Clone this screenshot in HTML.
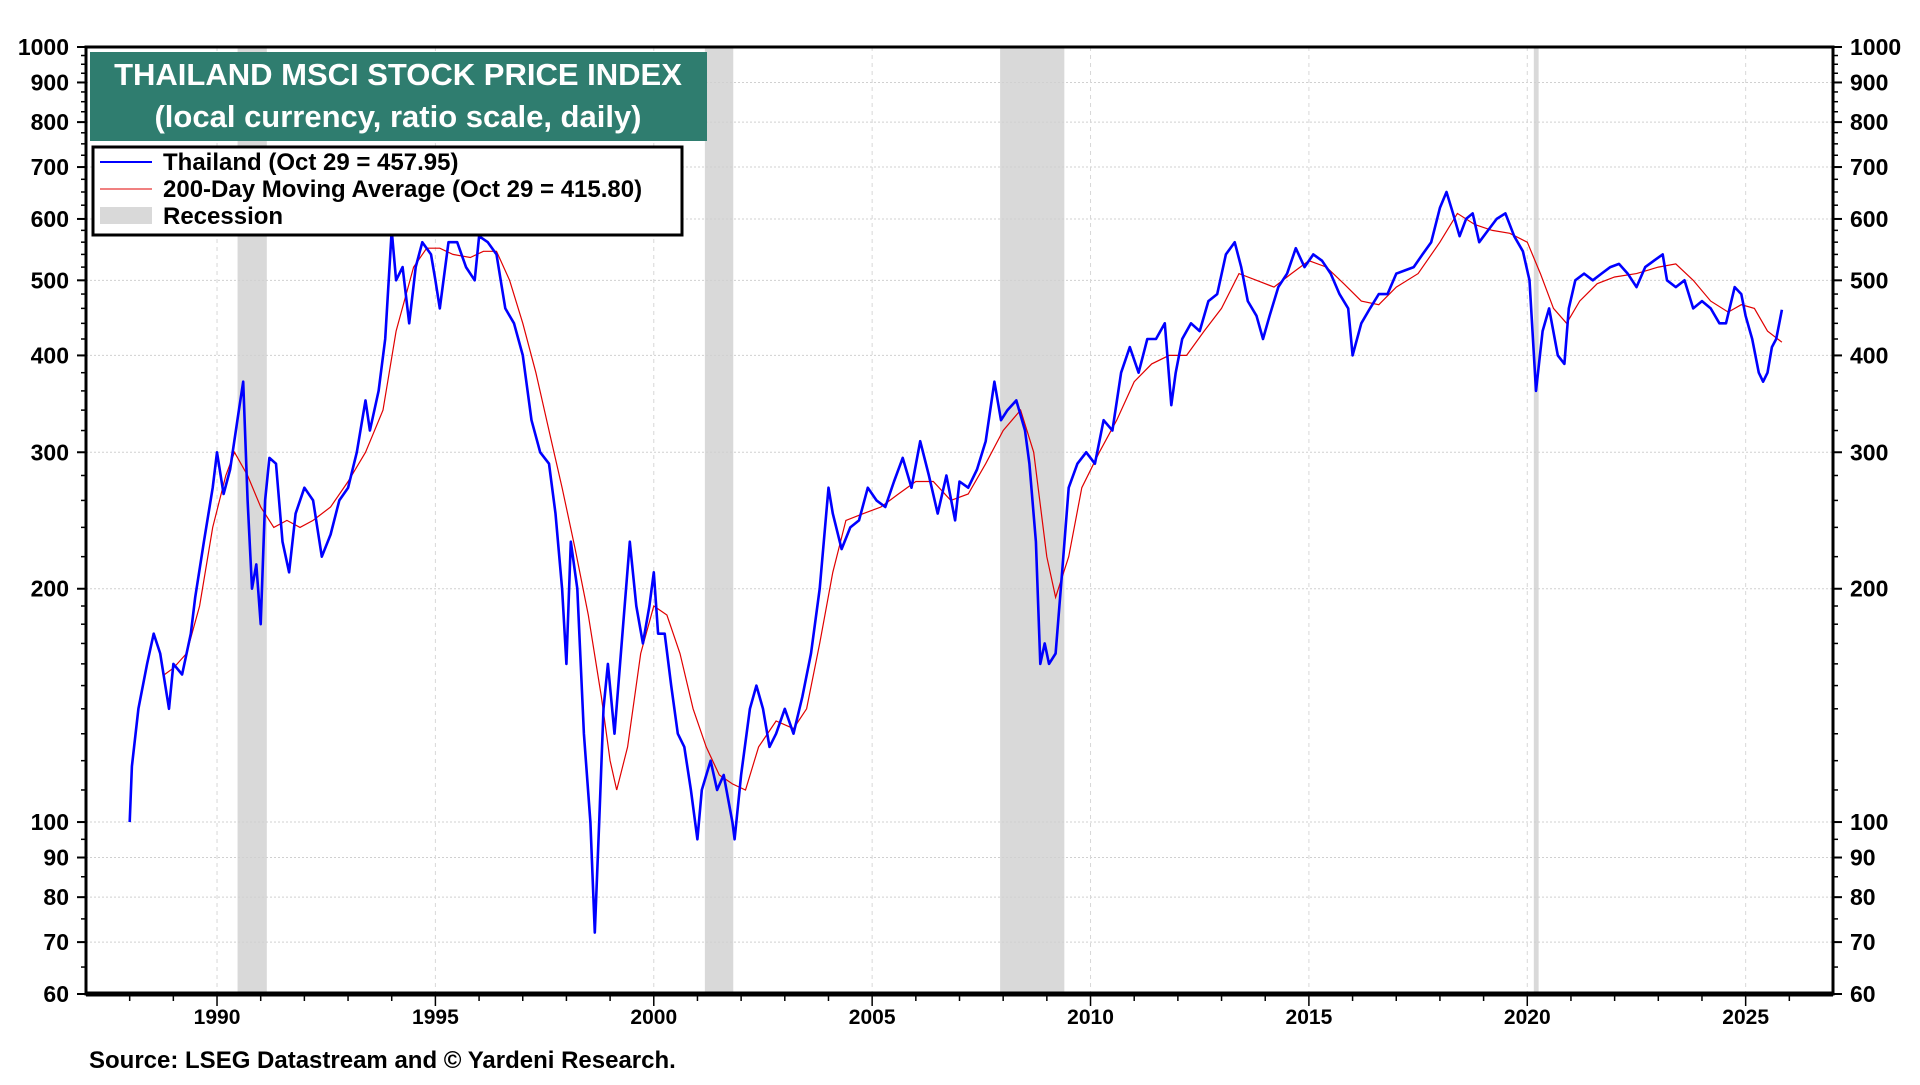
<!DOCTYPE html>
<html><head><meta charset="utf-8"><style>
body{margin:0;background:#fff;width:1920px;height:1080px;overflow:hidden;font-family:"Liberation Sans",Arial,sans-serif}
svg text{font-family:"Liberation Sans",Arial,sans-serif;font-weight:bold}
</style></head><body>
<svg id="chart" width="1920" height="1080" xmlns="http://www.w3.org/2000/svg">
<g id="rec"></g>
<g id="grid"></g>
<g id="series"></g>
<g id="axes"></g>
<rect x="90" y="52" width="617" height="89" fill="#2f7d6f"/>
<text x="398" y="85" fill="#fff" font-size="31" text-anchor="middle">THAILAND MSCI STOCK PRICE INDEX</text>
<text x="398" y="127" fill="#fff" font-size="31" text-anchor="middle">(local currency, ratio scale, daily)</text>
<g>
<rect x="93" y="147" width="589" height="88" fill="#fff" stroke="#000" stroke-width="3"/>
<line x1="100" y1="162" x2="152" y2="162" stroke="#0000ff" stroke-width="2"/>
<text x="163" y="170" font-size="24">Thailand (Oct 29 = 457.95)</text>
<line x1="100" y1="189" x2="152" y2="189" stroke="#e00000" stroke-width="1"/>
<text x="163" y="197" font-size="24">200-Day Moving Average (Oct 29 = 415.80)</text>
<rect x="100" y="207" width="52" height="17" fill="#d9d9d9"/>
<text x="163" y="224" font-size="24">Recession</text>
</g>
<text x="89" y="1068" font-size="24">Source: LSEG Datastream and © Yardeni Research.</text>
</svg>
<script>
const recessions=[[1990.47,1991.14],[2001.17,2001.82],[2007.93,2009.4],[2020.15,2020.26]];
const yTicks=[60,70,80,90,100,200,300,400,500,600,700,800,900,1000];
const xTicks=[1990,1995,2000,2005,2010,2015,2020,2025];
const thYears=[1988.0,1988.05,1988.2,1988.4,1988.55,1988.7,1988.9,1989.0,1989.2,1989.4,1989.5,1989.7,1989.9,1990.0,1990.15,1990.3,1990.5,1990.6,1990.7,1990.8,1990.9,1991.0,1991.1,1991.2,1991.35,1991.5,1991.65,1991.8,1992.0,1992.2,1992.4,1992.6,1992.8,1993.0,1993.2,1993.4,1993.5,1993.7,1993.85,1994.0,1994.1,1994.25,1994.4,1994.55,1994.7,1994.9,1995.0,1995.1,1995.3,1995.5,1995.7,1995.9,1996.0,1996.2,1996.4,1996.6,1996.8,1997.0,1997.2,1997.4,1997.6,1997.75,1997.9,1998.0,1998.1,1998.25,1998.4,1998.55,1998.65,1998.75,1998.85,1998.95,1999.1,1999.3,1999.45,1999.6,1999.75,1999.9,2000.0,2000.1,2000.25,2000.4,2000.55,2000.7,2000.85,2001.0,2001.1,2001.3,2001.45,2001.6,2001.8,2001.85,2002.0,2002.2,2002.35,2002.5,2002.65,2002.8,2003.0,2003.2,2003.4,2003.6,2003.8,2004.0,2004.1,2004.3,2004.5,2004.7,2004.9,2005.1,2005.3,2005.5,2005.7,2005.9,2006.1,2006.3,2006.5,2006.7,2006.9,2007.0,2007.2,2007.4,2007.6,2007.8,2007.95,2008.1,2008.3,2008.5,2008.6,2008.75,2008.85,2008.95,2009.05,2009.2,2009.35,2009.5,2009.7,2009.9,2010.1,2010.3,2010.5,2010.7,2010.9,2011.1,2011.3,2011.5,2011.7,2011.85,2011.95,2012.1,2012.3,2012.5,2012.7,2012.9,2013.1,2013.3,2013.45,2013.6,2013.8,2013.95,2014.1,2014.3,2014.5,2014.7,2014.9,2015.1,2015.3,2015.5,2015.7,2015.9,2016.0,2016.2,2016.4,2016.6,2016.8,2017.0,2017.2,2017.4,2017.6,2017.8,2018.0,2018.15,2018.3,2018.45,2018.6,2018.75,2018.9,2019.1,2019.3,2019.5,2019.7,2019.9,2020.05,2020.2,2020.35,2020.5,2020.7,2020.85,2020.95,2021.1,2021.3,2021.5,2021.7,2021.9,2022.1,2022.3,2022.5,2022.7,2022.9,2023.1,2023.2,2023.4,2023.6,2023.8,2024.0,2024.2,2024.4,2024.55,2024.75,2024.9,2025.0,2025.15,2025.3,2025.4,2025.5,2025.6,2025.7,2025.83];
const thValues=[100,118,140,160,175,165,140,160,155,175,195,230,270,300,265,285,340,370,260,200,215,180,260,295,290,230,210,250,270,260,220,235,260,270,300,350,320,360,420,580,500,520,440,520,560,540,500,460,560,560,520,500,570,560,540,460,440,400,330,300,290,250,200,160,230,200,130,100,72,100,140,160,130,180,230,190,170,190,210,175,175,150,130,125,110,95,110,120,110,115,100,95,115,140,150,140,125,130,140,130,145,165,200,270,250,225,240,245,270,260,255,275,295,270,310,280,250,280,245,275,270,285,310,370,330,340,350,320,290,230,160,170,160,165,210,270,290,300,290,330,320,380,410,380,420,420,440,345,380,420,440,430,470,480,540,560,520,470,450,420,450,490,510,550,520,540,530,510,480,460,400,440,460,480,480,510,515,520,540,560,620,650,610,570,600,610,560,580,600,610,570,545,500,360,430,460,400,390,460,500,510,500,510,520,525,510,490,520,530,540,500,490,500,460,470,460,440,440,490,480,450,420,380,370,380,410,420,458];
const maYears=[1988.8,1989.0,1989.3,1989.6,1989.9,1990.2,1990.4,1990.7,1991.0,1991.3,1991.6,1991.9,1992.2,1992.6,1993.0,1993.4,1993.8,1994.1,1994.5,1994.8,1995.1,1995.4,1995.8,1996.1,1996.4,1996.7,1997.0,1997.3,1997.6,1997.9,1998.2,1998.5,1998.8,1999.0,1999.15,1999.4,1999.7,2000.0,2000.3,2000.6,2000.9,2001.2,2001.5,2001.8,2002.1,2002.4,2002.8,2003.2,2003.5,2003.8,2004.1,2004.4,2004.8,2005.2,2005.6,2006.0,2006.4,2006.8,2007.2,2007.6,2008.0,2008.4,2008.7,2009.0,2009.2,2009.5,2009.8,2010.2,2010.6,2011.0,2011.4,2011.8,2012.2,2012.6,2013.0,2013.4,2013.8,2014.2,2014.6,2015.0,2015.4,2015.8,2016.2,2016.6,2017.0,2017.5,2018.0,2018.4,2018.8,2019.2,2019.6,2020.0,2020.3,2020.6,2020.9,2021.2,2021.6,2022.0,2022.5,2023.0,2023.4,2023.8,2024.2,2024.6,2024.9,2025.2,2025.5,2025.83];
const maValues=[155,158,165,190,240,280,300,280,255,240,245,240,245,255,275,300,340,430,520,550,550,540,535,545,545,500,440,380,320,270,225,185,145,120,110,125,165,190,185,165,140,125,115,112,110,125,135,132,140,170,210,245,250,255,265,275,275,260,265,290,320,340,300,220,195,220,270,300,330,370,390,400,400,430,460,510,500,490,510,530,520,495,470,465,490,510,560,610,590,580,575,560,510,460,440,470,495,505,510,520,525,500,470,455,465,460,430,416];

const L=86,R=1833,T=47,B=994,X0=1987,X1=2027,YMIN=60,YMAX=1000;
const xs=v=>L+(v-X0)/(X1-X0)*(R-L);
const ys=v=>B-(Math.log(v)-Math.log(YMIN))/(Math.log(YMAX)-Math.log(YMIN))*(B-T);
const NS='http://www.w3.org/2000/svg';
function mk(tag,parent,attrs){const e=document.createElementNS(NS,tag);for(const k in attrs)e.setAttribute(k,attrs[k]);document.getElementById(parent).appendChild(e);return e;}

recessions.forEach(r=>{
 const e=mk('rect','rec',{x:xs(r[0]),y:T,width:xs(r[1])-xs(r[0]),height:B-T,fill:'#d9d9d9'});
 
 
});
yTicks.forEach(v=>{
 const g=mk('line','grid',{x1:L,x2:R,y1:ys(v),y2:ys(v),stroke:'#d0d0d0','stroke-dasharray':'2,2','stroke-width':1});
 
 
 [[L-17,'end'],[R+17,'start']].forEach(p=>{
  const t=mk('text','axes',{x:p[0],y:ys(v)+8,'font-size':23,'text-anchor':p[1]});
  t.textContent=v;
  
  
 });
});
xTicks.forEach(v=>{
 const g=mk('line','grid',{x1:xs(v),x2:xs(v),y1:T,y2:B,stroke:'#d8d8d8','stroke-dasharray':'4,4','stroke-width':1});
 
 
 const t=mk('text','axes',{x:xs(v),y:B+30,'font-size':21,'text-anchor':'middle'});
 t.textContent=v;
 
 
});
for(let d=60;d<=1000;d+=(d<100?5:(d<200?10:(d<600?20:25)))){
 [[L-5,L],[R,R+5]].forEach(p=>mk('line','axes',{x1:p[0],x2:p[1],y1:ys(d),y2:ys(d),stroke:'#000','stroke-width':1.5}));
}
yTicks.forEach(v=>{[[L-9,L],[R,R+9]].forEach(p=>mk('line','axes',{x1:p[0],x2:p[1],y1:ys(v),y2:ys(v),stroke:'#000','stroke-width':2}));});
for(let yr=1988;yr<=2026;yr++){
 mk('line','axes',{x1:xs(yr),x2:xs(yr),y1:B,y2:B+(yr%5==0?12:7),stroke:'#000','stroke-width':1.5});
}
const ma=mk('path','series',{d:maYears.map((y,i)=>(i?'L':'M')+xs(y).toFixed(1)+','+ys(maValues[i]).toFixed(1)).join(''),fill:'none',stroke:'#e00000','stroke-width':1.2});


const th=mk('path','series',{d:thYears.map((y,i)=>(i?'L':'M')+xs(y).toFixed(1)+','+ys(thValues[i]).toFixed(1)).join(''),fill:'none',stroke:'#0000ff','stroke-width':2.6,'stroke-linejoin':'round'});


const fr=mk('rect','axes',{x:L,y:T,width:R-L,height:B-T,fill:'none',stroke:'#000','stroke-width':3});


mk('line','axes',{x1:L,x2:R,y1:B,y2:B,stroke:'#000','stroke-width':5});
</script>
</body></html>
